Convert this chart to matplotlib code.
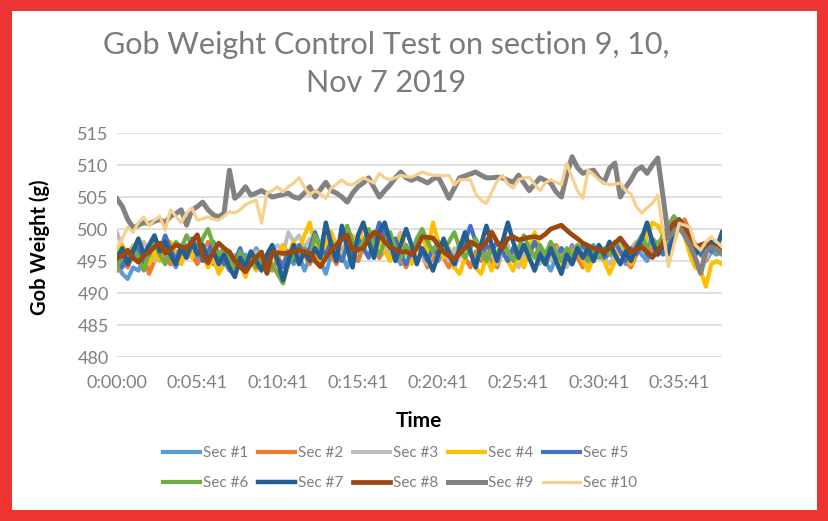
#Gob weight control test, sections 1-10, Nov 7 2019
#Packages
import matplotlib.pyplot as plt
import matplotlib.patches as patches
import numpy as np

plt.rcParams['font.family'] = ['Lato', 'DejaVu Sans']

#Tick labels on the time axis (one label every 15 samples)
time_labels = ['0:00:00', '0:05:41', '0:10:41', '0:15:41', '0:20:41', '0:25:41', '0:30:41', '0:35:41']
label_every = 15

series_names = ['Sec #1', 'Sec #2', 'Sec #3', 'Sec #4', 'Sec #5',
                'Sec #6', 'Sec #7', 'Sec #8', 'Sec #9', 'Sec #10']

#Gob weights in grams
sec1 = [494.5, 493.0, 492.2, 494.0, 493.5, 495.5, 494.0, 496.5, 495.0, 497.0,
        495.5, 494.0, 496.0, 497.5, 496.0, 495.0, 497.0, 496.0, 494.5, 496.0,
        495.0, 493.5, 495.5, 494.0, 496.0, 495.0, 497.0, 495.5, 494.0, 496.5,
        495.0, 497.5, 496.0, 494.5, 496.0, 493.5, 495.5, 497.0, 495.0, 493.0,
        496.0, 498.0, 496.0, 494.0, 496.5, 495.0, 497.5, 499.0, 497.0, 495.5,
        497.0, 498.5, 496.0, 494.5, 497.0, 496.0, 498.0, 496.5, 494.5, 496.5,
        495.0, 497.0, 496.0, 494.0, 496.5, 498.0, 496.0, 495.0, 497.5, 496.0,
        494.5, 496.0, 498.0, 496.5, 495.0, 496.5, 494.5, 496.0, 498.0, 496.5,
        495.0, 493.5, 495.5, 497.0, 495.5, 497.5, 496.0, 494.5, 496.0, 497.5,
        496.0, 495.0, 496.5, 495.0, 497.0, 494.5, 496.0, 497.5, 496.0, 495.0,
        497.0, 498.0, 497.5, 498.5, 500.0, 501.0, 499.5, 497.5, 496.0, 497.0,
        495.0, 496.5, 496.0, 496.5]
sec2 = [493.5, 495.0, 494.0, 496.0, 497.5, 495.5, 493.0, 495.0, 496.5, 495.5,
        494.5, 496.5, 495.0, 497.0, 496.0, 494.5, 496.0, 498.0, 496.5, 495.0,
        496.5, 495.0, 494.0, 495.5, 493.5, 495.0, 494.0, 496.0, 495.0, 493.5,
        495.5, 494.5, 496.5, 495.0, 497.0, 496.0, 494.5, 496.0, 495.0, 497.0,
        496.0, 494.5, 496.5, 498.0, 496.5, 495.0, 497.0, 498.5, 497.0, 495.5,
        497.0, 496.0, 497.5, 495.5, 494.0, 496.0, 497.5, 496.0, 494.0, 495.5,
        497.0, 495.5, 494.0, 496.0, 497.5, 495.5, 494.0, 496.5, 495.0, 497.0,
        495.5, 494.0, 496.5, 495.0, 497.0, 496.0, 494.5, 496.5, 498.0, 496.0,
        494.5, 496.0, 497.5, 496.0, 495.0, 497.0, 495.5, 494.0, 496.0, 495.0,
        496.5, 495.0, 497.0, 495.5, 496.5, 495.0, 494.0, 496.0, 497.5, 496.5,
        497.0, 496.0, 497.5, 499.0, 501.0, 500.0, 501.5, 499.5, 497.5, 496.0,
        495.0, 497.5, 496.5, 497.0]
sec3 = [499.5, 497.0, 495.5, 497.5, 496.0, 498.0, 496.5, 495.0, 497.0, 498.5,
        496.5, 495.0, 497.0, 496.0, 498.0, 496.5, 495.0, 497.0, 495.5, 494.0,
        495.5, 494.5, 496.0, 495.0, 493.5, 495.5, 496.5, 495.0, 494.5, 496.5,
        497.5, 496.0, 499.5, 498.0, 499.0, 497.0, 498.5, 497.0, 496.0, 498.0,
        499.5, 497.5, 496.0, 498.0, 497.0, 499.0, 497.5, 496.0, 497.5, 499.0,
        497.5, 496.0, 498.0, 499.5, 497.0, 495.5, 497.5, 496.0, 494.5, 496.5,
        498.0, 496.5, 495.0, 497.0, 495.5, 497.5, 496.0, 494.5, 496.0, 497.5,
        496.0, 494.5, 496.0, 497.5, 495.5, 494.0, 496.0, 497.5, 496.0, 494.5,
        496.5, 495.0, 497.0, 495.5, 494.0, 496.0, 497.5, 496.0, 494.5, 496.0,
        497.0, 495.5, 494.5, 496.0, 497.5, 496.0, 497.0, 498.0, 497.0, 498.5,
        497.5, 498.0, 497.0, 499.0, 500.0, 501.0, 499.5, 497.0, 495.0, 493.0,
        495.5, 497.0, 496.5, 496.0]
sec4 = [496.5, 497.5, 495.5, 497.0, 498.5, 496.0, 494.5, 496.5, 495.0, 497.0,
        498.0, 496.0, 494.5, 497.0, 495.5, 497.5, 496.0, 494.0, 495.5, 493.0,
        494.5, 496.0, 493.0, 494.5, 492.5, 495.0, 493.5, 495.0, 494.0, 496.0,
        495.0, 497.5, 496.0, 498.0, 496.5, 499.0, 501.0, 497.0, 495.0, 497.5,
        499.5, 497.0, 495.0, 497.5, 499.0, 496.5, 501.0, 498.5, 496.0, 498.0,
        496.5, 495.0, 497.5, 499.0, 496.5, 494.5, 497.0, 499.0, 496.5, 501.0,
        498.0, 495.5, 497.0, 494.0, 493.0, 495.5, 497.0, 494.0, 493.0, 495.5,
        493.5, 496.0, 498.0, 495.0, 493.5, 496.0, 494.0, 497.0, 499.5, 497.0,
        495.0, 497.5, 496.0, 494.0, 496.5, 495.0, 497.0, 495.0, 493.5, 495.5,
        497.0, 495.0, 493.0, 495.0, 497.0, 495.5, 494.5, 496.5, 497.5, 499.0,
        501.0, 500.5, 499.0, 497.5, 498.0, 500.5, 499.0, 496.0, 494.0, 493.5,
        491.0, 494.5, 495.0, 494.5]
sec5 = [495.0, 494.0, 496.5, 495.5, 497.0, 494.5, 496.0, 498.0, 496.5, 499.0,
        497.0, 495.0, 497.5, 496.0, 498.5, 497.0, 495.0, 496.5, 498.0, 496.0,
        494.5, 496.5, 495.0, 497.0, 494.5, 496.0, 494.0, 496.0, 495.0, 497.0,
        495.5, 494.0, 496.5, 495.0, 497.5, 496.0, 497.0, 499.5, 497.0, 496.0,
        498.0, 496.5, 495.0, 497.5, 496.0, 498.5, 497.0, 495.5, 498.0, 501.0,
        499.0, 497.0, 498.5, 496.0, 494.5, 496.5, 498.0, 496.5, 495.0, 497.0,
        496.0, 498.0, 496.5, 495.0, 496.5, 498.0, 500.5, 498.0, 496.0, 497.5,
        496.5, 498.0, 496.5, 495.0, 497.0, 495.5, 497.5, 496.0, 498.0, 496.5,
        495.0, 497.0, 495.5, 497.0, 496.0, 494.5, 496.5, 497.5, 496.0, 495.0,
        497.0, 495.5, 496.5, 498.0, 496.5, 495.0, 497.0, 496.0, 497.5, 496.0,
        495.5, 497.0, 496.0, 497.5, 499.0, 501.5, 500.5, 499.0, 497.5, 496.0,
        497.0, 496.5, 497.5, 497.0]
sec6 = [494.0, 496.0, 495.0, 497.0, 495.5, 493.5, 496.5, 498.0, 496.0, 494.5,
        496.5, 498.0, 497.0, 499.0, 497.5, 496.0, 498.5, 500.0, 497.5, 496.0,
        497.0, 495.5, 494.0, 496.5, 495.0, 496.0, 494.0, 495.5, 493.0, 494.5,
        493.0, 491.5, 494.5, 496.0, 495.0, 497.0, 495.5, 499.0, 497.0, 500.5,
        498.0, 496.0, 498.5, 500.5, 498.0, 496.5, 498.0, 500.0, 497.5, 496.0,
        498.0, 499.5, 497.0, 495.5, 497.5, 496.0, 498.5, 500.0, 498.0, 496.5,
        498.0, 496.5, 498.0, 499.5, 497.0, 495.5, 497.0, 498.5, 496.5, 495.0,
        497.0, 496.0, 498.0, 496.5, 495.0, 497.0, 499.0, 497.0, 495.5, 497.5,
        496.0, 498.0, 496.5, 495.0, 497.0, 495.5, 497.5, 496.0, 495.0, 496.5,
        495.5, 497.0, 496.0, 497.5, 498.5, 497.0, 495.5, 497.5, 499.0, 497.0,
        498.5, 497.5, 499.0, 500.5, 502.0, 501.0, 499.5, 498.0, 496.5, 497.5,
        496.5, 497.5, 496.5, 496.0]
sec7 = [495.5, 497.0, 494.5, 496.5, 498.5, 496.0, 497.5, 499.0, 496.5, 498.0,
        496.0, 494.5, 497.0, 495.5, 498.0, 496.0, 497.5, 495.0, 496.5, 494.5,
        496.0, 494.0, 492.5, 495.5, 494.0, 496.5, 495.0, 493.5, 496.0, 497.5,
        495.0, 492.0, 495.0, 497.5, 494.5, 496.5, 495.0, 497.0, 495.5, 501.0,
        497.5, 495.0, 500.5, 497.0, 494.0, 499.0, 501.0, 498.0, 495.5, 499.5,
        501.0, 498.0, 495.0, 497.5, 500.0, 497.5, 494.5, 497.0, 495.5, 493.5,
        496.0, 498.5, 496.0, 494.5, 497.0, 499.5, 496.5, 494.0, 497.5, 500.5,
        497.5, 495.0, 498.0, 501.0, 498.0, 495.5, 497.5, 495.5, 493.5, 496.0,
        494.5, 497.0, 495.0, 493.0, 496.0, 494.5, 497.0, 495.5, 497.0, 495.0,
        497.5, 496.0, 498.0, 496.0, 494.5, 496.5, 495.0, 497.0, 498.5, 501.0,
        498.0, 496.0, 497.5, 496.0, 498.5, 501.5, 500.0, 498.0, 496.0, 497.5,
        496.5, 498.0, 497.0, 499.5]
sec8 = [495.5, 495.8, 496.7, 495.5, 494.8, 495.8, 496.4, 497.2, 497.8, 496.2,
        496.8, 497.5, 497.2, 497.0, 498.0, 499.1, 496.0, 494.7, 496.5, 497.8,
        497.0, 496.4, 495.0, 494.1, 493.3, 494.5, 495.6, 496.4, 493.1, 496.4,
        496.3, 496.2, 496.2, 496.5, 496.7, 496.4, 496.2, 495.0, 494.1, 495.5,
        496.7, 497.5, 498.5, 499.1, 496.7, 496.8, 497.0, 498.5, 499.5, 499.1,
        498.0, 497.2, 496.8, 496.4, 496.5, 496.0, 497.0, 498.8, 498.7, 498.6,
        497.5, 496.4, 495.8, 495.2, 496.2, 497.0, 498.0, 497.5, 497.0, 498.0,
        499.5, 498.0, 497.0, 498.5, 498.8, 498.3, 498.5, 498.7, 498.8, 498.6,
        499.2, 500.0, 500.3, 500.6, 499.8, 499.1, 498.5, 497.8, 497.4, 497.0,
        496.8, 496.4, 497.0, 497.8, 498.6, 497.5, 496.4, 496.8, 497.2, 496.4,
        495.6, 496.5, 497.8, 499.5, 500.9, 501.4, 500.0, 498.8, 497.2, 497.5,
        497.8, 497.4, 497.0, 497.2]
sec9 = [504.7, 503.5, 501.5, 500.2, 500.6, 501.0, 500.8, 501.2, 501.5, 501.0,
        502.0, 502.4, 503.0, 500.6, 503.0, 503.5, 504.2, 503.0, 502.2, 501.9,
        502.5, 509.2, 504.8, 505.5, 506.6, 505.3, 505.6, 506.0, 505.5, 505.0,
        505.2, 505.4, 505.6, 505.0, 504.8, 505.6, 506.6, 505.0, 506.2, 507.3,
        506.0, 505.6, 505.0, 504.2, 505.6, 506.6, 507.2, 508.0, 506.5, 505.0,
        506.0, 506.9, 508.0, 508.9, 508.0, 507.6, 508.0, 507.6, 507.2, 507.8,
        508.1, 506.5, 504.8, 506.4, 508.0, 508.3, 508.6, 508.9, 508.4, 508.0,
        508.0, 508.1, 508.0, 507.6, 507.3, 508.4, 507.2, 506.0, 507.0, 508.0,
        507.6, 507.2, 505.8, 505.0, 508.5, 511.3, 509.6, 508.7, 509.0, 509.2,
        508.0, 507.3, 509.5, 510.3, 505.0, 506.5, 507.7, 509.2, 509.7, 508.7,
        510.0, 511.1, 505.0, 498.6, 499.5, 500.3, 499.0, 497.5, 495.5, 493.1,
        496.5, 497.2, 496.8, 496.2]
sec10 = [497.2, 498.5, 500.3, 499.5, 501.0, 501.9, 500.5, 501.4, 502.0, 499.8,
         503.0, 502.0, 501.0, 502.5, 503.3, 501.4, 501.6, 501.9, 501.5, 501.4,
         502.0, 502.7, 502.5, 503.0, 503.8, 504.2, 504.5, 500.9, 505.6, 506.0,
         506.6, 505.8, 506.6, 507.2, 508.0, 506.5, 505.3, 506.0, 505.5, 504.8,
         506.4, 507.0, 507.7, 507.0, 506.9, 507.5, 508.0, 507.6, 507.2, 508.7,
         508.0, 507.7, 508.0, 508.4, 508.2, 508.1, 508.5, 508.9, 508.6, 508.4,
         508.4, 508.3, 508.4, 506.9, 507.7, 507.7, 507.7, 505.5, 504.5, 504.0,
         505.8, 507.5, 508.4, 507.0, 506.4, 507.7, 508.0, 508.1, 507.0, 506.0,
         507.2, 507.7, 507.3, 506.9, 510.3, 508.0, 506.0, 504.8, 509.2, 508.5,
         507.7, 507.2, 506.9, 507.0, 507.2, 506.0, 505.5, 503.5, 502.5, 503.3,
         504.0, 505.3, 499.5, 494.1, 497.5, 500.9, 500.6, 500.3, 497.5, 496.7,
         498.0, 498.8, 498.0, 497.2]

all_series = [sec1, sec2, sec3, sec4, sec5, sec6, sec7, sec8, sec9, sec10]

#Line colours and widths (Excel style palette)
colors = ['#5B9BD5', '#ED7D31', '#BDBDBD', '#FFC000', '#4472C4',
          '#70AD47', '#255E91', '#9E480E', '#828282', '#F8D08D']
widths = [3.0, 3.0, 2.8, 3.0, 3.0, 3.0, 3.2, 3.4, 3.6, 2.3]

fig = plt.figure(figsize=(8.29, 5.21), dpi=100, facecolor='#EE3333')
#White card inside the red frame (drawn behind the axes)
fig.patches.append(patches.Rectangle((12/829, 11/521), 805/829, 499/521,
                                     transform=fig.transFigure, facecolor='white',
                                     edgecolor='none', zorder=-5))
ax = fig.add_axes([117/829, 1-357/521, 605/829, 224/521])
ax.set_facecolor('none')

x = np.arange(len(sec1))
lines = []
for name, vals, c, w in zip(series_names, all_series, colors, widths):
    ln, = ax.plot(x, vals, color=c, linewidth=w, label=name, solid_joinstyle='round')
    lines.append(ln)

ax.set_xlim(0, len(sec1)-1)
ax.set_ylim(480, 515)
ax.set_yticks(np.arange(480, 516, 5))
ax.set_xticks(np.arange(len(time_labels))*label_every)
ax.set_xticklabels(time_labels)
ax.grid(axis='y', color='#D9D9D9', linewidth=1.2)
ax.set_axisbelow(True)
for s in ax.spines.values():
    s.set_visible(False)
ax.tick_params(length=0, labelsize=13, labelcolor='#7F7F7F', pad=6)
ax.tick_params(axis='x', pad=13)

#Titles
fig.text(386/829, 1-45/521, 'Gob Weight Control Test on section 9, 10,', ha='center', va='center',
         fontsize=22, color='#7A7A7A')
fig.text(386/829, 1-83/521, 'Nov 7 2019', ha='center', va='center', fontsize=22, color='#7A7A7A')
fig.text(40/829, 1-247/521, 'Gob Weight (g)', rotation=90, ha='center', va='center',
         fontsize=14.5, fontweight='bold', color='black')
fig.text(419/829, 1-421/521, 'Time', ha='center', va='center', fontsize=15, fontweight='bold', color='black')

#Legend in two rows, filled row by row
order = [0, 5, 1, 6, 2, 7, 3, 8, 4, 9]
fig.legend([lines[i] for i in order], [series_names[i] for i in order], ncol=5,
           loc='center', bbox_to_anchor=(400/829, 1-468/521), frameon=False,
           fontsize=11, labelcolor='#7F7F7F', handlelength=2.4, handletextpad=0.2,
           columnspacing=0.65, labelspacing=1.05)

plt.savefig('out.png', dpi=100, facecolor=fig.get_facecolor())
